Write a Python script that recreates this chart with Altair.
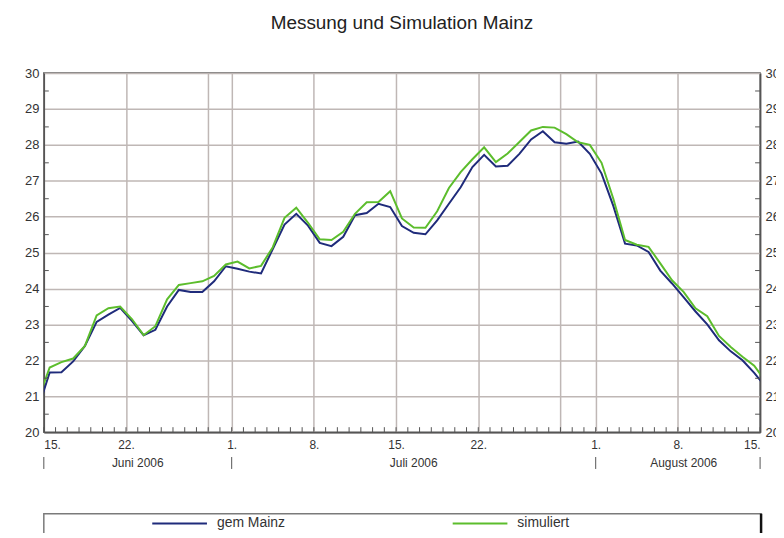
import altair as alt
import pandas as pd

# ---- data (daily values at noon, 14 Jun 12:00 .. 15 Aug 12:00) ----
dates = pd.date_range("2006-06-14 12:00", periods=63, freq="D").strftime("%Y-%m-%dT%H:%M:%S").tolist()
gem_mainz = [20.65, 21.66, 21.67, 21.97, 22.4, 23.07, 23.27, 23.46, 23.1, 22.7,
             22.85, 23.5, 23.96, 23.9, 23.9, 24.2, 24.62, 24.55, 24.47, 24.42,
             25.1, 25.78, 26.08, 25.75, 25.27, 25.18, 25.44, 26.04, 26.1, 26.36,
             26.27, 25.74, 25.55, 25.51, 25.9, 26.36, 26.82, 27.38, 27.72, 27.4,
             27.42, 27.75, 28.15, 28.38, 28.07, 28.03, 28.09, 27.75, 27.2, 26.3,
             25.25, 25.2, 25.02, 24.5, 24.14, 23.75, 23.36, 23.0, 22.56, 22.25,
             22.0, 21.65, 21.25]
simuliert = [20.9, 21.8, 21.95, 22.05, 22.4, 23.25, 23.45, 23.5, 23.15, 22.7,
             22.95, 23.7, 24.1, 24.15, 24.2, 24.35, 24.67, 24.75, 24.56, 24.63,
             25.15, 25.97, 26.25, 25.83, 25.37, 25.35, 25.58, 26.08, 26.4, 26.41,
             26.71, 25.95, 25.7, 25.69, 26.15, 26.8, 27.24, 27.6, 27.93, 27.52,
             27.76, 28.08, 28.4, 28.5, 28.48, 28.3, 28.07, 28.0, 27.5, 26.5,
             25.35, 25.22, 25.16, 24.7, 24.23, 23.9, 23.45, 23.23, 22.68, 22.37,
             22.1, 21.85, 21.4]
series_names = ["gem Mainz", "simuliert"]
series_colors = ["#1f2b7b", "#5cbd2c"]

y_ticks = list(range(20, 31))
y_half_ticks = [20.5, 21.5, 22.5, 23.5, 24.5, 25.5, 26.5, 27.5, 28.5, 29.5]
x_tick_days = [(2006, 6, 15), (2006, 6, 22), (2006, 6, 29), (2006, 7, 1), (2006, 7, 8),
               (2006, 7, 15), (2006, 7, 22), (2006, 7, 29), (2006, 8, 1), (2006, 8, 8),
               (2006, 8, 15)]
day_ticks = pd.date_range("2006-06-15", "2006-08-15", freq="D").strftime("%Y-%m-%dT%H:%M:%S").tolist()
months = ["Juni 2006", "Juli 2006", "August 2006"]
month_mid = ["2006-06-23T00:00:00", "2006-07-16T12:00:00", "2006-08-08T12:00:00"]
month_bounds = ["2006-06-15T00:00:00", "2006-07-01T00:00:00", "2006-08-01T00:00:00", "2006-08-15T00:00:00"]
title_text = "Messung und Simulation Mainz"

df = pd.DataFrame({
    "date": dates * 2,
    "value": gem_mainz + simuliert,
    "series": [series_names[0]] * len(dates) + [series_names[1]] * len(dates),
})

FONT = "Liberation Sans"
xscale = alt.Scale(domain=[alt.DateTime(year=2006, month=6, date=15),
                           alt.DateTime(year=2006, month=8, date=15)])
yscale = alt.Scale(domain=[20, 30], nice=False)


def x_axis():
    return alt.Axis(values=[alt.DateTime(year=y, month=m, date=d) for (y, m, d) in x_tick_days],
                    labelExpr="date(datum.value) == 29 ? '' : date(datum.value) + '.'",
                    grid=True, tickSize=0, labelPadding=7, title=None,
                    labelFontSize=12, labelOverlap=False)


lines = alt.Chart(df).mark_line(clip=True, strokeWidth=2).encode(
    x=alt.X("date:T", scale=xscale, axis=x_axis()),
    y=alt.Y("value:Q", scale=yscale,
            axis=alt.Axis(values=y_ticks, grid=True, tickSize=0, labelPadding=5, title=None)),
    color=alt.Color("series:N",
                    scale=alt.Scale(domain=series_names, range=series_colors),
                    legend=alt.Legend(orient="none", legendX=108, legendY=424, direction="horizontal",
                                      title=None, symbolType="stroke", symbolSize=3025,
                                      symbolStrokeWidth=2, labelFont=FONT, labelFontSize=14,
                                      labelColor="#333", labelOffset=9, columnPadding=164,
                                      padding=0)),
)

dticks = alt.Chart(pd.DataFrame({"date": day_ticks})).mark_rule(color="#555", strokeWidth=1).encode(
    x=alt.X("date:T", scale=xscale, axis=x_axis()),
    y=alt.value(356), y2=alt.value(361),
)

half_df = pd.DataFrame({"v": y_half_ticks})
yticks_left = alt.Chart(half_df).mark_rule(color="#555", strokeWidth=1).encode(
    y=alt.Y("v:Q", scale=yscale, axis=None),
    x=alt.value(0), x2=alt.value(5),
)
yticks_right = alt.Chart(half_df).mark_rule(color="#555", strokeWidth=1).encode(
    y=alt.Y("v:Q", scale=yscale,
            axis=alt.Axis(orient="right", values=y_ticks, grid=False, tickSize=0,
                          labelPadding=5, title=None)),
    x=alt.value(715), x2=alt.value(720),
)

month_labels = alt.Chart(pd.DataFrame({"m": months, "date": month_mid})).mark_text(
    font=FONT, fontSize=12, color="#333", baseline="middle", align="center").encode(
    x=alt.X("date:T", scale=xscale, axis=x_axis()),
    y=alt.value(392),
    text="m:N",
)
month_marks = alt.Chart(pd.DataFrame({"date": month_bounds})).mark_rule(color="#555", strokeWidth=1).encode(
    x=alt.X("date:T", scale=xscale, axis=x_axis()),
    y=alt.value(386), y2=alt.value(398),
)

title = alt.Chart(alt.Data(values=[{"t": title_text}])).mark_text(
    font=FONT, fontSize=19, color="#222", align="center", baseline="middle").encode(
    text="t:N", x=alt.value(360), y=alt.value(-50),
)

frame = alt.Chart(alt.Data(values=[{}])).mark_rect(fill="transparent", stroke="#7a7a7a", strokeWidth=1.5).encode(
    x=alt.value(0), x2=alt.value(721), y=alt.value(443), y2=alt.value(490),
)
frame_right = alt.Chart(alt.Data(values=[{}])).mark_rule(color="#111", strokeWidth=2.5).encode(
    x=alt.value(721), y=alt.value(443), y2=alt.value(490),
)

chart = alt.layer(
    frame, frame_right, lines, dticks, yticks_left, yticks_right, month_labels, month_marks, title
).resolve_axis(y="independent").resolve_scale(y="shared").properties(
    width=720, height=361,
    autosize=alt.AutoSizeParams(type="none"),
    padding={"left": 36, "top": 64, "right": 16, "bottom": 100},
).configure_view(stroke="#555", strokeWidth=1.5).configure_axis(
    labelFont=FONT, labelFontSize=13, labelColor="#333",
    domainColor="#555", domainWidth=1.5,
    gridColor="#bfb7b5", gridWidth=1.5,
)

chart.save("out.html", embed_options={"renderer": "svg", "actions": False})
